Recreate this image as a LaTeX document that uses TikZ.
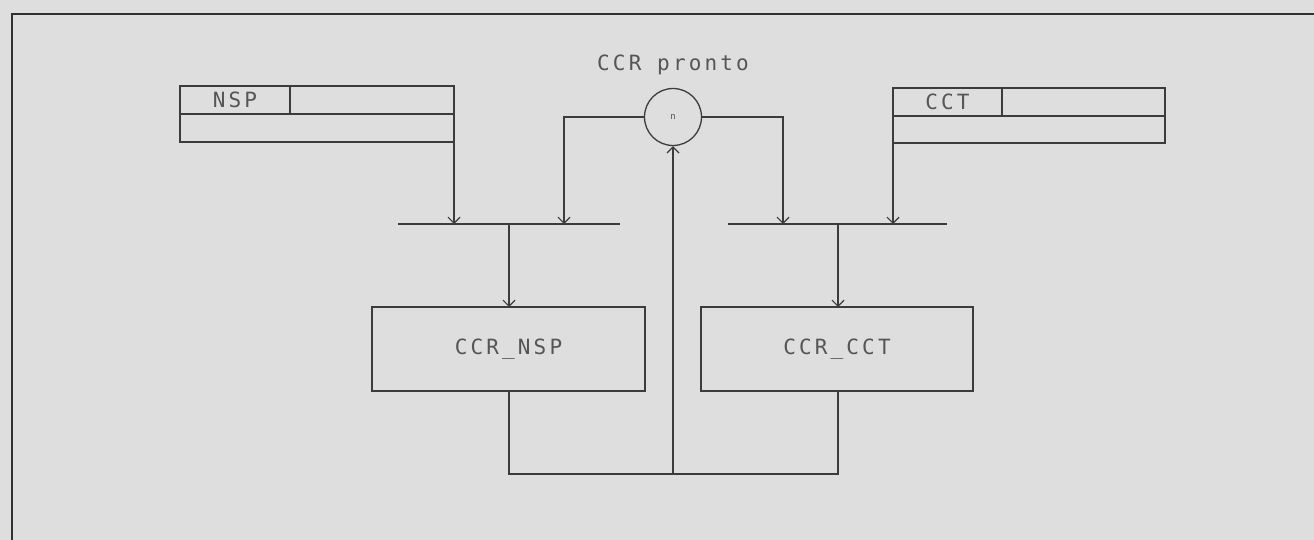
\documentclass[tikz,border=0pt]{standalone}
\usepackage{fontspec}
\setmonofont[LetterSpace=15]{DejaVu Sans Mono}
\usetikzlibrary{arrows.meta}
\definecolor{paper}{RGB}{222,222,222}
\definecolor{ink}{RGB}{60,60,60}
\definecolor{txt}{RGB}{85,85,85}
\begin{document}
\begin{tikzpicture}[x=1pt,y=-1pt,
  cell/.style={draw=ink, line width=1.3pt, inner sep=0pt, outer sep=0pt, anchor=north west,
    font=\ttfamily\fontsize{21}{21}\selectfont, text=txt},
  box/.style={cell},
  wire/.style={draw=ink, line width=1.3pt},
  arr/.style={wire, -{Straight Barb[length=6pt,width=12pt,line width=1.2pt]}},
  frame/.style={draw=ink!80!black, line width=2.4pt}]
\fill[paper] (0,0) rectangle (1314,540);
\useasboundingbox (0,0) rectangle (1314,540);
\draw[frame] (12,540) -- (12,14) -- (1314,14);
% NSP register
\node[cell, minimum width=110pt, minimum height=28pt] (nsp1) at (180,86) {NSP};
\node[cell, minimum width=164pt, minimum height=28pt] (nsp2) at (290,86) {};
\node[cell, minimum width=274pt, minimum height=28pt] (nsp3) at (180,114) {};
% CCT register
\node[cell, minimum width=109pt, minimum height=28pt] (cct1) at (893,88) {CCT};
\node[cell, minimum width=163pt, minimum height=28pt] (cct2) at (1002,88) {};
\node[cell, minimum width=272pt, minimum height=27pt] (cct3) at (893,116) {};
% circle
\node[draw=ink, line width=1.3pt, circle, minimum size=57pt, inner sep=0pt, font=\ttfamily\fontsize{9}{9}\selectfont, text=txt] (circ) at (673,117) {n};
\node[font=\ttfamily\fontsize{21}{21}\selectfont, text=txt] (lbl) at (673,65) {CCR pronto};
% bars
\coordinate (b1l) at (398,224);
\coordinate (b1r) at (620,224);
\coordinate (b2l) at (728,224);
\coordinate (b2r) at (947,224);
\draw[wire] (b1l) -- (b1r);
\draw[wire] (b2l) -- (b2r);
\coordinate (j1) at (454,224);
\coordinate (j2) at (564,224);
\coordinate (j3) at (783,224);
\coordinate (j4) at (893,224);
\coordinate (m1) at (509,224);
\coordinate (m2) at (838,224);
% lower boxes
\node[box, minimum width=273pt, minimum height=84pt] (ccrnsp) at (372,307) {CCR\_NSP};
\node[box, minimum width=272pt, minimum height=84pt] (ccrcct) at (701,307) {CCR\_CCT};
% connectors
\draw[arr] (nsp3.south east) -- (j1);
\draw[arr] (circ.west) -| (j2);
\draw[arr] (circ.east) -| (j3);
\draw[arr] (cct3.south west) -- (j4);
\draw[arr] (m1) -- (m1 |- ccrnsp.north);
\draw[arr] (m2) -- (m2 |- ccrcct.north);
\coordinate (fl) at (509,474);
\coordinate (fr) at (838,474);
\coordinate (fm) at (673,474);
\draw[wire] (fl |- ccrnsp.south) -- (fl) -- (fr) -- (fr |- ccrcct.south);
\draw[arr] (fm) -- (circ.south);
\end{tikzpicture}
\end{document}
